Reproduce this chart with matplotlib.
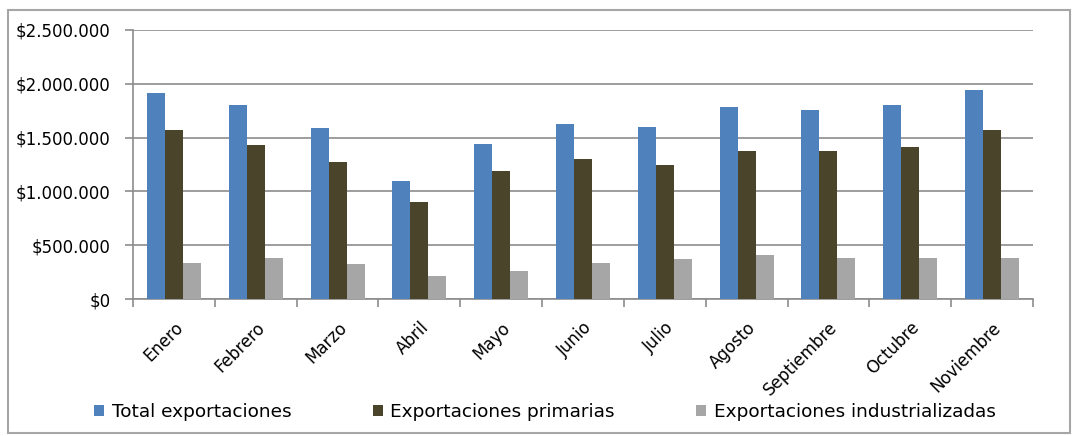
import numpy as np
import matplotlib.pyplot as plt
from matplotlib.patches import Rectangle

# monthly exports (USD)
meses = ['Enero', 'Febrero', 'Marzo', 'Abril', 'Mayo', 'Junio', 'Julio',
         'Agosto', 'Septiembre', 'Octubre', 'Noviembre']
total = [1912000, 1801000, 1588000, 1098000, 1442000, 1628000, 1600000,
         1789000, 1761000, 1801000, 1947000]
primarias = [1572000, 1430000, 1269000, 900000, 1185000, 1297000, 1244000,
             1371000, 1371000, 1414000, 1572000]
industrializadas = [334000, 381000, 325000, 210000, 263000, 337000, 368000,
                    408000, 381000, 381000, 381000]
series = ['Total exportaciones', 'Exportaciones primarias',
          'Exportaciones industrializadas']
colores = ['#4F81BD', '#4A452A', '#A6A6A6']
yticks = [0, 500000, 1000000, 1500000, 2000000, 2500000]

plt.rcParams['font.family'] = ['DejaVu Sans']

fig = plt.figure(figsize=(10.79, 4.36), dpi=100)
ax = fig.add_axes([0.1233, 0.3142, 0.834, 0.617])

x = np.arange(len(meses))
w = 0.22
for k, (vals, nombre, c) in enumerate(zip([total, primarias, industrializadas], series, colores)):
    ax.bar(x + (k - 1) * w, vals, w, color=c, label=nombre, zorder=3)

ax.set_xlim(-0.5, len(meses) - 0.5)
ax.set_ylim(0, 2500000)
ax.set_yticks(yticks)
ax.set_yticklabels(['$' + f'{v:,}'.replace(',', '.') for v in yticks], fontsize=12)
ax.yaxis.grid(True, color='#8C8C8C', lw=1.2, zorder=0)

# category labels, ticks on the group boundaries
ax.set_xticks(x)
ax.set_xticklabels(meses, rotation=45, ha='right', rotation_mode='anchor', fontsize=12)
ax.tick_params(axis='x', length=0, pad=14)
ax.set_xticks(np.arange(-0.5, len(meses)), minor=True)
ax.tick_params(axis='x', which='minor', length=6, color='#8C8C8C', width=1.2)
ax.tick_params(axis='y', length=6, color='#8C8C8C', width=1.2, pad=10)

for s in ['top', 'right']:
    ax.spines[s].set_visible(False)
for s in ['left', 'bottom']:
    ax.spines[s].set_color('#8C8C8C')
    ax.spines[s].set_linewidth(1.2)

fig.legend(loc='center', bbox_to_anchor=(0.505, 0.055), ncol=3, frameon=False,
           fontsize=13.3, handlelength=0.55, handleheight=0.55, columnspacing=4.4,
           handletextpad=0.4)

# outer frame of the chart
fig.patches.append(Rectangle((8 / 1079, 3 / 436), 1062 / 1079, 423 / 436,
                             transform=fig.transFigure, fill=False,
                             edgecolor='#A6A6A6', lw=1.5))

fig.savefig('out.png', dpi=100)
